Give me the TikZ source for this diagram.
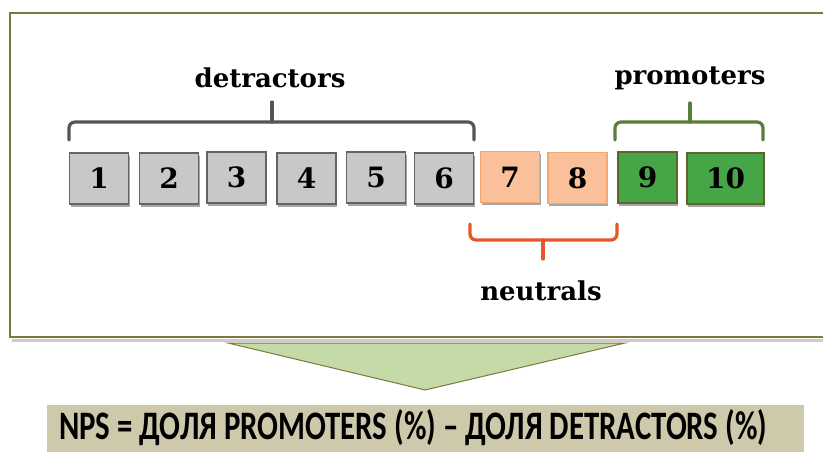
\documentclass[tikz,border=0pt]{standalone}
\usepackage{fontspec}
\setmainfont{DejaVu Serif}
\newfontfamily\formulafont{Carlito}
\usetikzlibrary{shadows}
\definecolor{frameol}{RGB}{125,120,64}
\definecolor{grayfill}{RGB}{200,200,200}
\definecolor{grayline}{RGB}{100,100,100}
\definecolor{orfill}{RGB}{249,192,154}
\definecolor{orline}{RGB}{244,168,112}
\definecolor{grfill}{RGB}{70,165,70}
\definecolor{grline}{RGB}{95,100,45}
\definecolor{bracegray}{RGB}{85,85,85}
\definecolor{bracegreen}{RGB}{90,125,58}
\definecolor{braceorange}{RGB}{228,88,40}
\definecolor{trifill}{RGB}{196,219,168}
\definecolor{tanfill}{RGB}{205,201,170}
\tikzset{
  score/.style={draw, line width=1.2pt, minimum width=59pt, minimum height=51pt, inner sep=0pt,
    font=\fontsize{28}{28}\selectfont\bfseries,
    drop shadow={shadow xshift=1pt, shadow yshift=-2.5pt, opacity=0.35, fill=black}},
  det/.style={score, fill=grayfill, draw=grayline},
  neu/.style={score, fill=orfill, draw=orline},
  pro/.style={score, fill=grfill, draw=grline},
  bracestyle/.style={line width=3.2pt, rounded corners=6pt, line cap=round},
  bracetip/.style={line width=3.2pt, line cap=round},
  grouplabel/.style={font=\fontsize{26}{26}\selectfont\bfseries, inner sep=0pt}
}
\begin{document}
\begin{tikzpicture}[x=1pt,y=-1pt]
\useasboundingbox (0,0) rectangle (823,452);
% frame
\fill[black!20] (12,339) rectangle (830,342);
\draw[frameol, line width=1.2pt, fill=white] (10,13) rectangle (830,337);
% boxes
\node[det] (b1) at (99,178.5) {1};
\node[det] (b2) at (169,178.5) {2};
\node[det] (b3) at (236.5,177.5) {3};
\node[det] (b4) at (306.5,178.5) {4};
\node[det] (b5) at (376,177.5) {5};
\node[det] (b6) at (444,178.5) {6};
\node[neu] (b7) at (510,177) {7};
\node[neu] (b8) at (577.5,178) {8};
\node[pro] (b9) at (647.5,177.5) {9};
\node[pro, minimum width=77pt] (b10) at (725.5,178.5) {10};
% braces
\draw[bracestyle, bracegray] (69,140) |- (272,122);
\draw[bracestyle, bracegray] (474,140) |- (272,122);
\draw[bracetip, bracegray] (272,122) -- (272,102);
\draw[bracestyle, bracegreen] (615,140) |- (690,122);
\draw[bracestyle, bracegreen] (763,140) |- (690,122);
\draw[bracetip, bracegreen] (690,122) -- (690,103);
\draw[bracestyle, braceorange] (470,224) |- (543,240);
\draw[bracestyle, braceorange] (617,224) |- (543,240);
\draw[bracetip, braceorange] (543,240) -- (543,259);
% labels
\node[grouplabel] (ldet) at (270,78) {detractors};
\node[grouplabel] (lpro) at (690,78) {promoters};
\node[grouplabel] (lneu) at (541,291) {neutrals};
% triangle
\draw[frameol, line width=1pt, fill=trifill] (228,343) -- (625,343) -- (425,390) -- cycle;
% formula box
\node[fill=tanfill, minimum width=757pt, minimum height=50pt, inner sep=0pt, anchor=north west] (fbox) at (47,405) {};
\node[anchor=west, inner sep=0pt] (formula) at (59,428) {\resizebox{708pt}{30pt}{\formulafont\bfseries NPS = ДОЛЯ PROMOTERS (\%) – ДОЛЯ DETRACTORS (\%)}};
\end{tikzpicture}
\end{document}
